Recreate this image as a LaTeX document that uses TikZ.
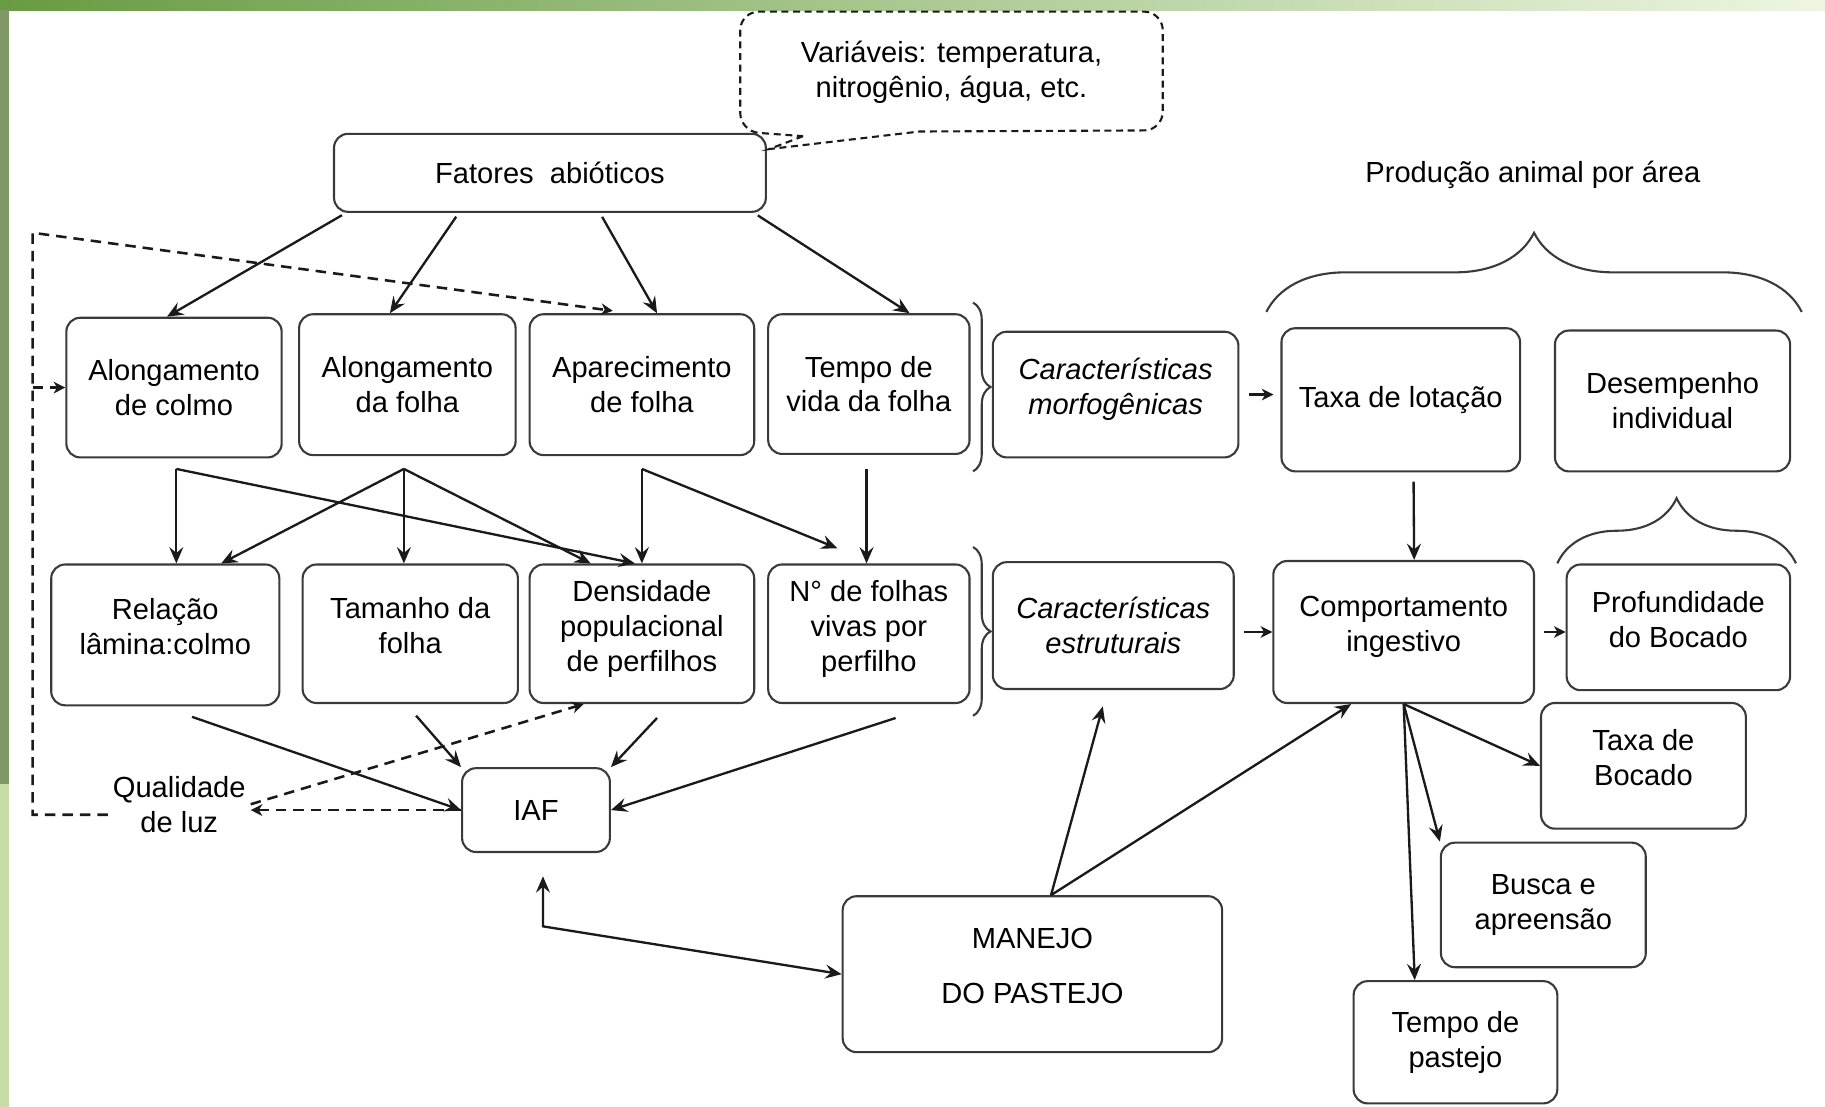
\documentclass[tikz,border=0pt]{standalone}
\usepackage{fontspec}
\setmainfont{Liberation Sans}
\usetikzlibrary{positioning,calc,arrows.meta,decorations.pathreplacing}
\definecolor{ink}    {HTML}{1A1A1A}
\definecolor{frame}  {HTML}{3A3A3A}
\definecolor{bandL}  {HTML}{689B42}
\definecolor{bandM}  {HTML}{A9CB86}
\definecolor{bandR}  {HTML}{EEF6E2}
\definecolor{stripD} {HTML}{7F9865}
\definecolor{stripL} {HTML}{C8DCAA}
\newcommand{\dfont}{\fontsize{12.5}{15}\selectfont}
\tikzset{
  >={Stealth[length=7pt,width=6pt,inset=2.5pt]},
  % --- nodes
  box/.style    = {draw=frame, line width=0.9pt, rounded corners=6pt, align=center,
                   inner sep=2pt, font=\dfont},
  itbox/.style  = {box, font=\dfont\itshape},
  txtup/.style  = {text depth=7pt},
  sz/.style 2 args = {minimum width=#1pt, minimum height=#2pt},
  txt/.style    = {align=center, inner sep=2pt, font=\dfont},
  bubble/.style = {draw=ink, line width=0.9pt, dash pattern=on 3pt off 2pt},
  brc/.style    = {decorate, decoration={brace, amplitude=#1}, draw=frame, line width=0.9pt},
  % --- edges
  arr/.style    = {->, line width=1pt, draw=ink},
  sarr/.style   = {-{Stealth[length=5pt,width=5pt,inset=1.5pt]}, line width=1pt, draw=ink,
                   shorten <=4pt},
  darr/.style   = {sarr, shorten <=0pt, line width=1.1pt, dash pattern=on 4.5pt off 3pt},
}
\begin{document}
\begin{tikzpicture}[x=0.5pt, y=-0.5pt]
  % frame of the slide
  \useasboundingbox (0,0) rectangle (1568,951);
  \fill[white] (0,0) rectangle (1568,951);
  \shade[left color=bandL, middle color=bandM, right color=bandR] (0,0) rectangle (1568,9);
  \fill[stripD] (0,9) rectangle (7.5,674);
  \fill[stripL] (0,674) rectangle (7.5,951);

  % nodes
  \node[box, sz={185.5}{33.5}] (fat) at (472.5,148.5) {Fatores~~abióticos};
  \node[txt] (var) at (817.5,62) {Variáveis: temperatura,\\nitrogênio, água, etc.};
  \coordinate (tip) at ($(fat.north east)+(2,14)$);
  \draw[bubble] (690,117) [sharp corners] -- (tip) -- (790,113)
        [rounded corners=8pt] -- (999,112) -- (999,10) -- (636,10) -- (636,113) -- (690,117);

  \node[box, sz={92.5}{60}]    (acol)   at (149.5,333)    {Alongamento\\de colmo};
  \node[box, sz={93}{60.5}]    (afol)   at (350,330.5)    {Alongamento\\da folha};
  \node[box, sz={96.5}{60.5}]  (apar)   at (551.5,330.5)  {Aparecimento\\de folha};
  \node[box, sz={86.5}{60}]    (tvid)   at (746.5,330)    {Tempo de\\vida da folha};
  \node[itbox, txtup, sz={105.5}{54}] (morf) at (958.5,339) {Características\\morfogênicas};
  \node[box, sz={102.5}{61.5}] (tlot)   at (1203.5,343.5) {Taxa de lotação};
  \node[box, sz={101}{60.5}]   (desemp) at (1437,344.5)   {Desempenho\\individual};

  \node[box, txtup, sz={98}{60.5}]   (rel)  at (142,545.5)   {Relação\\lâmina:colmo};
  \node[box, txtup, sz={92.5}{59.5}] (tam)  at (352.5,544.5) {Tamanho da\\folha};
  \node[box, txtup, sz={96.5}{59.5}] (dens) at (551.5,544.5) {Densidade\\populacional\\de perfilhos};
  \node[box, txtup, sz={86.5}{59.5}] (nfol) at (746.5,544.5) {N° de folhas\\vivas por\\perfilho};
  \node[itbox, sz={103.5}{54.5}]     (estr) at (956.5,537.5) {Características\\estruturais};
  \node[box, txtup, sz={112}{61}]    (comp) at (1206,543)    {Comportamento\\ingestivo};
  \node[box, txtup, sz={96}{54}]     (prof) at (1442,539)    {Profundidade\\do Bocado};

  \node[box, txtup, sz={88}{54}] (tboc)   at (1412,658)     {Taxa de\\Bocado};
  \node[box, sz={88}{53.5}]      (busca)  at (1326,777.5)   {Busca e\\apreensão};
  \node[box, sz={87.5}{52.5}]    (tpast)  at (1250.5,895.5) {Tempo de\\pastejo};
  \node[box, txtup, sz={163}{67}] (manejo) at (887,837)     {MANEJO\\[8.5pt]DO PASTEJO};
  \node[box, sz={63.5}{36}]      (iaf)    at (460.5,696)    {IAF};
  \node[txt] (qual) at (154,691)  {Qualidade\\de luz};
  \node[txt] (prod) at (1317,150) {Produção animal por área};

  % braces
  \draw[brc=7.5pt] (836,260) -- (836,405);
  \draw[brc=7.5pt] (836,470) -- (836,615);
  \draw[brc=34pt] (1088,268) -- (1548,268);
  \draw[brc=28pt] (1338,484) -- (1543,484);

  % abiotic factors
  \foreach \p/\t/\dx in {.03/acol/-6, .29/afol/-15, .615/apar/13, .97/tvid/35}
    \draw[arr, shorten <=2pt] ($(fat.south west)!\p!(fat.south east)$) -- ($(\t.north)+(\dx,0)$);

  % morphogenic -> structural
  \coordinate (pA) at ($(acol.south)+(2,9)$);
  \coordinate (pB) at ($(afol.south)+(-3,11)$);
  \coordinate (pC) at ($(apar.south)+(0,11)$);
  \coordinate (pD) at ($(tvid.south)+(-2,12)$);
  \draw[arr] (pA) -- (pA |- rel.north);
  \draw[arr] (pA) -- ($(dens.north)+(-6,0)$);
  \draw[arr] (pB) -- ($(rel.north)+(48,0)$);
  \draw[arr] (pB) -- (pB |- tam.north);
  \draw[arr] (pB) -- ($(dens.north)+(-44,0)$);
  \draw[arr] (pC) -- (pC |- dens.north);
  \draw[arr] (pC) -- ($(nfol.north)+(-27,-13)$);
  \draw[arr] (pD) -- (pD |- nfol.north);

  % structural -> IAF
  \draw[arr] ($(rel.south)+(23,9)$)   -- (iaf.west);
  \draw[arr] ($(tam.south)+(5,10)$)   -- (iaf.north west);
  \draw[arr] ($(dens.south)+(13,12)$) -- (iaf.north east);
  \draw[arr] ($(nfol.south)+(23,12)$) -- (iaf.east);

  % light quality loop
  \coordinate (fbTop) at (28,200);
  \coordinate (fbBot) at (28,700);
  \draw[darr] (qual.west |- fbBot) -- (fbBot) -- (fbTop) -- ($(apar.north)+(-25,-2)$);
  \draw[darr] (fbTop |- acol.west) -- (acol.west);
  \draw[darr] (iaf.west) -- (qual.east |- iaf.west);
  \draw[darr] (qual.east) -- ($(dens.south)+(-50,0)$);

  % grazing management
  \coordinate (kink) at ($(iaf.south)+(6,63)$);
  \draw[arr, <->] ($(iaf.south)+(6,20)$) -- (kink) -- (manejo.west);
  \coordinate (mtop) at ($(manejo.north)+(16,0)$);
  \draw[arr] (mtop) -- ($(estr.south)+(-9,14)$);
  \draw[arr] (mtop) -- ($(comp.south west)!.3!(comp.south east)$);

  % animal side
  \draw[sarr, shorten >=3pt] (morf.east) -- (morf.east -| tlot.west);
  \draw[sarr] (estr.east |- comp.west) -- (comp.west);
  \draw[sarr] (comp.east) -- (comp.east -| prof.west);
  \draw[arr] ($(tlot.south)+(11,8)$) -- ($(comp.north)+(9,0)$);
  \draw[arr] (comp.south) -- (tboc.west);
  \draw[arr] (comp.south) -- (busca.north west);
  \draw[arr] (comp.south) -- ($(tpast.north)+(-35,0)$);
\end{tikzpicture}
\end{document}
